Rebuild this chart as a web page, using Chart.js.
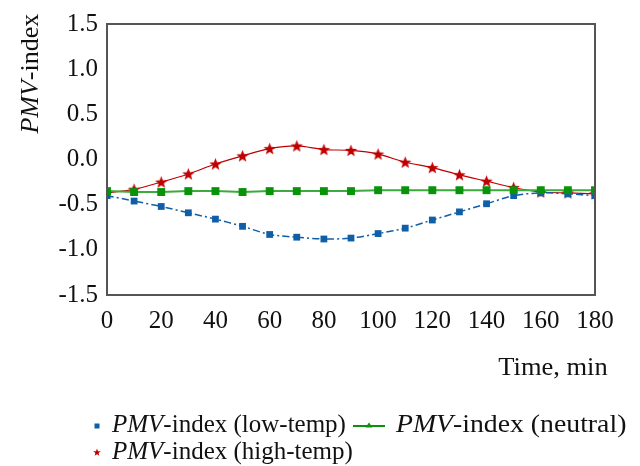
<!DOCTYPE html>
<html>
<head>
<meta charset="utf-8">
<script src="https://cdn.jsdelivr.net/npm/chart.js@4.4.1/dist/chart.umd.min.js"></script>
<style>
html,body{margin:0;padding:0;background:#fff;}
#wrap{width:640px;height:466px;position:relative;}
</style>
</head>
<body>
<div id="wrap"><canvas id="c" width="640" height="466"></canvas></div>
<script>
// ---- data ----
const timeMin = [0,10,20,30,40,50,60,70,80,90,100,110,120,130,140,150,160,170,180];
const pmvLowTemp = [-0.40,-0.46,-0.52,-0.59,-0.66,-0.74,-0.83,-0.86,-0.88,-0.87,-0.82,-0.76,-0.67,-0.58,-0.49,-0.40,-0.37,-0.38,-0.40];
const pmvNeutral = [-0.35,-0.36,-0.36,-0.35,-0.35,-0.36,-0.35,-0.35,-0.35,-0.35,-0.34,-0.34,-0.34,-0.34,-0.34,-0.34,-0.34,-0.34,-0.34];
const pmvHighTemp = [-0.37,-0.33,-0.25,-0.16,-0.05,0.04,0.12,0.15,0.11,0.10,0.06,-0.03,-0.09,-0.17,-0.24,-0.31,-0.36,-0.37,-0.38];
const yTicks = [-1.5,-1.0,-0.5,0.0,0.5,1.0,1.5];
const xTicks = [0,20,40,60,80,100,120,140,160,180];
const seriesNames = ['(low-temp)','(neutral)','(high-temp)'];

const FONT = '"Liberation Serif", "Times New Roman", serif';
const FS = 25;
const BLUE = '#0F5FA8', GREEN = '#0A930A', GREENLINE = '#3DAA3D', RED = '#C00000';

function starImage(r, color) {
  const s = Math.ceil(r * 2 + 2);
  const cv = document.createElement('canvas');
  cv.width = s; cv.height = s;
  const g = cv.getContext('2d');
  const cx = s / 2, cy = s / 2 + 0.5;
  g.beginPath();
  for (let i = 0; i < 10; i++) {
    const rad = i % 2 === 0 ? r : r * 0.42;
    const a = -Math.PI / 2 + i * Math.PI / 5;
    const px = cx + rad * Math.cos(a), py = cy + rad * Math.sin(a);
    if (i === 0) g.moveTo(px, py); else g.lineTo(px, py);
  }
  g.closePath();
  g.fillStyle = color; g.fill();
  return cv;
}
const starPt = starImage(6.5, RED);

const toXY = (arr) => arr.map((v, i) => ({x: timeMin[i], y: v}));

const decor = {
  id: 'decor',
  afterDraw(chart) {
    const ctx = chart.ctx, a = chart.chartArea;
    ctx.save();
    // frame
    ctx.strokeStyle = '#555';
    ctx.lineWidth = 2;
    ctx.strokeRect(a.left, a.top, a.right - a.left, a.bottom - a.top);
    ctx.fillStyle = '#111';
    const it = 'italic ' + FS + 'px ' + FONT, nm = FS + 'px ' + FONT;
    function mixed(x, y, parts, stretch) {
      let cx = x;
      for (const [txt, f] of parts) {
        ctx.font = f;
        const w = ctx.measureText(txt).width;
        if (stretch) { ctx.save(); ctx.translate(cx, y); ctx.scale(stretch, 1); ctx.fillText(txt, 0, 0); ctx.restore(); cx += w * stretch; }
        else { ctx.fillText(txt, cx, y); cx += w; }
      }
      return cx;
    }
    function mixedWidth(parts) {
      let w = 0; for (const [txt, f] of parts) { ctx.font = f; w += ctx.measureText(txt).width; } return w;
    }
    // y title
    ctx.save();
    ctx.translate(38, 76);
    ctx.rotate(-Math.PI / 2);
    ctx.textBaseline = 'alphabetic';
    const yParts = [['PMV', it], ['-index', nm]];
    mixed(-mixedWidth(yParts) / 2, 0, yParts, 1.04);
    ctx.restore();
    // x title
    ctx.save();
    ctx.font = nm; ctx.textAlign = 'center'; ctx.textBaseline = 'alphabetic';
    ctx.translate(553, 375); ctx.scale(1.06, 1);
    ctx.fillText('Time, min', 0, 0);
    ctx.restore();
    // legend row 1 low-temp
    ctx.fillStyle = BLUE;
    ctx.fillRect(94.5, 423.5, 5, 5);
    ctx.fillStyle = '#111';
    mixed(112, 432, [['PMV', it], ['-index ' + seriesNames[0], nm]]);
    // neutral
    ctx.strokeStyle = GREEN; ctx.lineWidth = 2;
    ctx.beginPath(); ctx.moveTo(353, 426); ctx.lineTo(385, 426); ctx.stroke();
    ctx.fillStyle = GREEN;
    ctx.beginPath(); ctx.moveTo(369, 422.5); ctx.lineTo(372.5, 427.5); ctx.lineTo(365.5, 427.5); ctx.closePath(); ctx.fill();
    ctx.fillStyle = '#111';
    mixed(396, 432, [['PMV', it], ['-index ' + seriesNames[1], nm]], 1.11);
    // row 2 high-temp
    const smallStar = starImage(4, RED);
    ctx.drawImage(smallStar, 97 - smallStar.width / 2, 452 - smallStar.height / 2);
    ctx.fillStyle = '#111';
    mixed(112, 459, [['PMV', it], ['-index ' + seriesNames[2], nm]]);
    ctx.restore();
  }
};

new Chart(document.getElementById('c'), {
  type: 'line',
  data: {
    datasets: [
      {
        label: 'PMV-index ' + seriesNames[1],
        data: toXY(pmvNeutral),
        borderColor: GREENLINE, borderWidth: 2,
        pointStyle: 'rect', pointRadius: 5.6, pointBackgroundColor: GREEN, pointBorderColor: GREEN, pointBorderWidth: 0,
        tension: 0
      },
      {
        label: 'PMV-index ' + seriesNames[0],
        data: toXY(pmvLowTemp),
        borderColor: BLUE, borderWidth: 1.5, borderDash: [7, 3, 2, 3],
        pointStyle: 'rect', pointRadius: 4.8, pointBackgroundColor: BLUE, pointBorderColor: BLUE, pointBorderWidth: 0,
        tension: 0.3
      },
      {
        label: 'PMV-index ' + seriesNames[2],
        data: toXY(pmvHighTemp),
        borderColor: RED, borderWidth: 1.2,
        pointStyle: starPt, pointRadius: 6.5,
        tension: 0.3
      }
    ]
  },
  options: {
    responsive: false,
    animation: false,
    layout: { padding: { left: 0, right: 45, top: 24, bottom: 0 } },
    plugins: { legend: { display: false }, tooltip: { enabled: false } },
    scales: {
      x: {
        type: 'linear', min: 0, max: 180,
        afterBuildTicks: (s) => { s.ticks = xTicks.map(v => ({value: v})); },
        afterFit: (s) => { s.height = 171; },
        grid: { display: false, drawTicks: false },
        border: { display: false },
        ticks: { font: { family: FONT, size: FS }, color: '#111', padding: 11, maxRotation: 0, autoSkip: false }
      },
      y: {
        min: -1.5, max: 1.5,
        afterBuildTicks: (s) => { s.ticks = yTicks.map(v => ({value: v})); },
        afterFit: (s) => { s.width = 107; },
        grid: { display: false, drawTicks: false },
        border: { display: false },
        ticks: { font: { family: FONT, size: FS }, color: '#111', padding: 9, callback: (v) => Number(v).toFixed(1) }
      }
    }
  },
  plugins: [decor]
});
</script>
</body>
</html>
